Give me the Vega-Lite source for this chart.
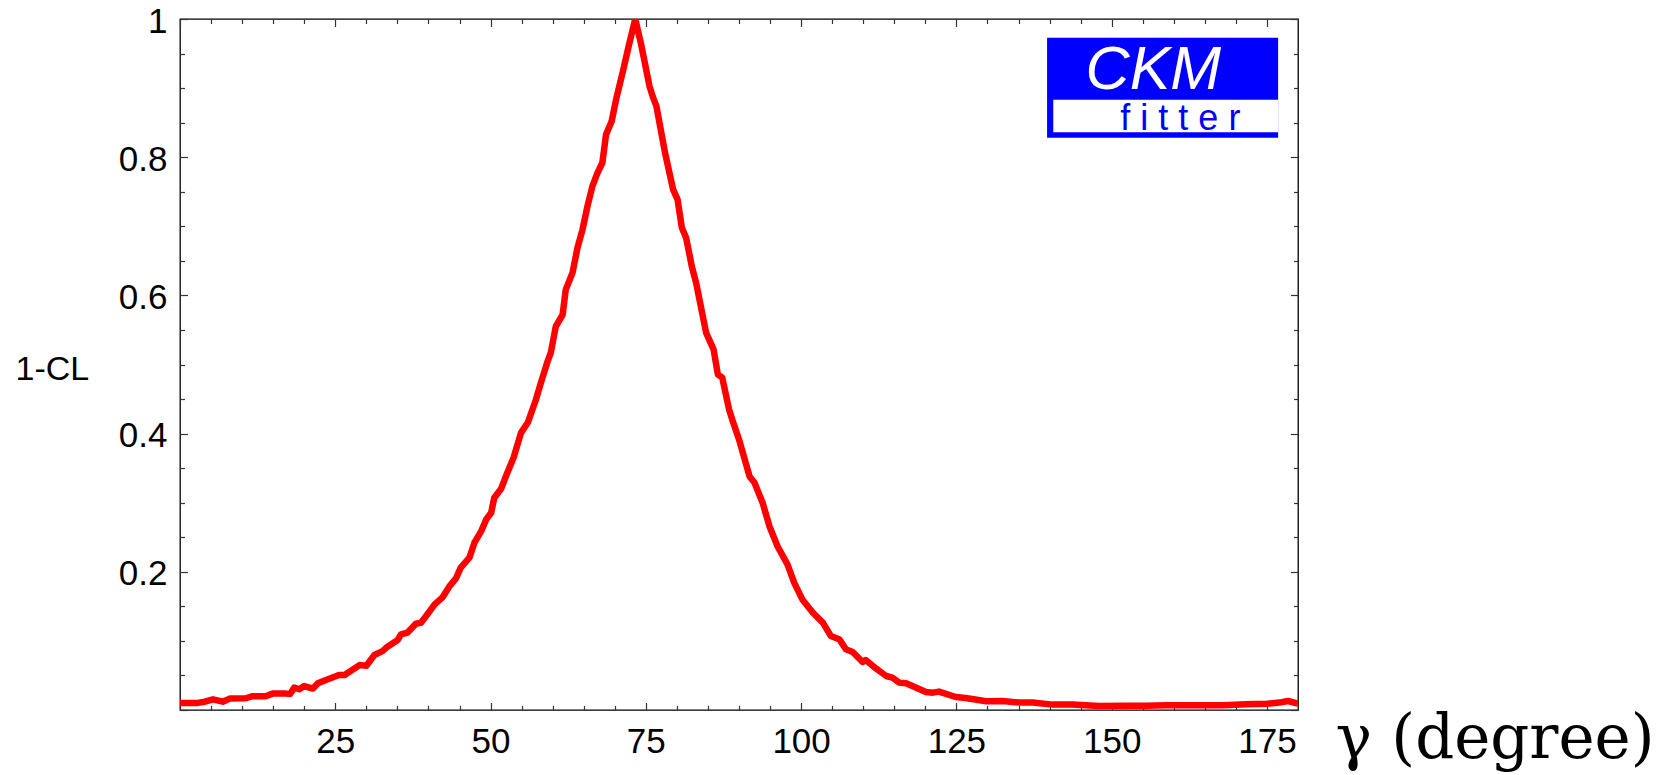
{
  "$schema": "https://vega.github.io/schema/vega-lite/v6.json",
  "autosize": "none",
  "width": 1118,
  "height": 691,
  "padding": {"left": 180, "top": 19, "right": 378, "bottom": 65},
  "background": "white",
  "config": {
    "view": {"stroke": "#000000", "strokeWidth": 1.3},
    "axis": {
      "grid": false,
      "domain": false,
      "labelFont": "Liberation Sans",
      "labelFontSize": 35,
      "labelColor": "#000000",
      "tickColor": "#333333",
      "tickWidth": 1.2,
      "titleColor": "#000000"
    }
  },
  "datasets": {
    "logo": [{"part": "CKMfitter"}]
  },
  "data": {
    "values": [
      {"gamma": 0, "CL": 0.010},
      {"gamma": 1.5, "CL": 0.010},
      {"gamma": 2.6, "CL": 0.010},
      {"gamma": 4.0, "CL": 0.012},
      {"gamma": 5.3, "CL": 0.0155},
      {"gamma": 6.9, "CL": 0.012},
      {"gamma": 8.0, "CL": 0.0165},
      {"gamma": 10.6, "CL": 0.017},
      {"gamma": 11.7, "CL": 0.020},
      {"gamma": 13.8, "CL": 0.020},
      {"gamma": 14.9, "CL": 0.0237},
      {"gamma": 17.1, "CL": 0.0237},
      {"gamma": 17.7, "CL": 0.023},
      {"gamma": 18.4, "CL": 0.0324},
      {"gamma": 19.2, "CL": 0.030},
      {"gamma": 20.0, "CL": 0.0347},
      {"gamma": 21.4, "CL": 0.031},
      {"gamma": 22.2, "CL": 0.0386},
      {"gamma": 23.5, "CL": 0.0434},
      {"gamma": 25.6, "CL": 0.0506},
      {"gamma": 26.5, "CL": 0.0506},
      {"gamma": 28.9, "CL": 0.065},
      {"gamma": 30.0, "CL": 0.0641},
      {"gamma": 31.3, "CL": 0.0796},
      {"gamma": 32.6, "CL": 0.0853},
      {"gamma": 33.4, "CL": 0.0917},
      {"gamma": 35.0, "CL": 0.1008},
      {"gamma": 35.6, "CL": 0.1095},
      {"gamma": 36.6, "CL": 0.1119},
      {"gamma": 38.0, "CL": 0.125},
      {"gamma": 38.8, "CL": 0.1263},
      {"gamma": 39.9, "CL": 0.1394},
      {"gamma": 41.0, "CL": 0.1529},
      {"gamma": 42.3, "CL": 0.1634},
      {"gamma": 43.4, "CL": 0.1793},
      {"gamma": 44.4, "CL": 0.19},
      {"gamma": 45.2, "CL": 0.206},
      {"gamma": 46.6, "CL": 0.2204},
      {"gamma": 47.4, "CL": 0.2421},
      {"gamma": 48.5, "CL": 0.2589},
      {"gamma": 49.3, "CL": 0.2758},
      {"gamma": 50.1, "CL": 0.2855},
      {"gamma": 50.6, "CL": 0.3072},
      {"gamma": 51.7, "CL": 0.3202},
      {"gamma": 52.7, "CL": 0.3434},
      {"gamma": 53.7, "CL": 0.365},
      {"gamma": 54.9, "CL": 0.401},
      {"gamma": 56.0, "CL": 0.416},
      {"gamma": 57.3, "CL": 0.449},
      {"gamma": 58.1, "CL": 0.4735},
      {"gamma": 59.2, "CL": 0.505},
      {"gamma": 59.7, "CL": 0.517},
      {"gamma": 60.5, "CL": 0.555},
      {"gamma": 61.6, "CL": 0.572},
      {"gamma": 62.1, "CL": 0.608},
      {"gamma": 63.2, "CL": 0.633},
      {"gamma": 64.0, "CL": 0.669},
      {"gamma": 64.8, "CL": 0.695},
      {"gamma": 65.6, "CL": 0.729},
      {"gamma": 66.4, "CL": 0.758},
      {"gamma": 67.2, "CL": 0.777},
      {"gamma": 68.0, "CL": 0.792},
      {"gamma": 68.6, "CL": 0.833},
      {"gamma": 69.5, "CL": 0.852},
      {"gamma": 70.2, "CL": 0.883},
      {"gamma": 71.3, "CL": 0.924},
      {"gamma": 72.3, "CL": 0.963},
      {"gamma": 73.3, "CL": 1.0},
      {"gamma": 74.2, "CL": 0.965},
      {"gamma": 75.6, "CL": 0.9025},
      {"gamma": 76.1, "CL": 0.888},
      {"gamma": 76.7, "CL": 0.874},
      {"gamma": 78.1, "CL": 0.806},
      {"gamma": 79.4, "CL": 0.753},
      {"gamma": 80.1, "CL": 0.739},
      {"gamma": 80.8, "CL": 0.698},
      {"gamma": 81.5, "CL": 0.683},
      {"gamma": 82.4, "CL": 0.642},
      {"gamma": 83.1, "CL": 0.618},
      {"gamma": 84.7, "CL": 0.546},
      {"gamma": 85.2, "CL": 0.536},
      {"gamma": 85.9, "CL": 0.522},
      {"gamma": 86.6, "CL": 0.4856},
      {"gamma": 87.3, "CL": 0.481},
      {"gamma": 88.4, "CL": 0.435},
      {"gamma": 89.0, "CL": 0.418},
      {"gamma": 90.0, "CL": 0.3915},
      {"gamma": 91.7, "CL": 0.338},
      {"gamma": 92.5, "CL": 0.329},
      {"gamma": 93.8, "CL": 0.300},
      {"gamma": 94.9, "CL": 0.266},
      {"gamma": 96.2, "CL": 0.237},
      {"gamma": 97.8, "CL": 0.2107},
      {"gamma": 98.9, "CL": 0.184},
      {"gamma": 100.2, "CL": 0.160},
      {"gamma": 101.9, "CL": 0.1408},
      {"gamma": 103.5, "CL": 0.1264},
      {"gamma": 104.8, "CL": 0.107},
      {"gamma": 106.2, "CL": 0.102},
      {"gamma": 107.2, "CL": 0.0878},
      {"gamma": 108.3, "CL": 0.0839},
      {"gamma": 109.9, "CL": 0.0694},
      {"gamma": 110.4, "CL": 0.0723},
      {"gamma": 112.1, "CL": 0.0598},
      {"gamma": 113.7, "CL": 0.0492},
      {"gamma": 114.7, "CL": 0.0468},
      {"gamma": 115.8, "CL": 0.0396},
      {"gamma": 116.9, "CL": 0.0386},
      {"gamma": 120.1, "CL": 0.026},
      {"gamma": 121.2, "CL": 0.0251},
      {"gamma": 122.2, "CL": 0.0266},
      {"gamma": 124.9, "CL": 0.0188},
      {"gamma": 126.5, "CL": 0.0174},
      {"gamma": 129.8, "CL": 0.0126},
      {"gamma": 132.4, "CL": 0.013},
      {"gamma": 135.1, "CL": 0.0107},
      {"gamma": 137.3, "CL": 0.0107},
      {"gamma": 140.5, "CL": 0.0078},
      {"gamma": 143.7, "CL": 0.008},
      {"gamma": 148.0, "CL": 0.0058},
      {"gamma": 152.3, "CL": 0.006},
      {"gamma": 155.5, "CL": 0.006},
      {"gamma": 158.7, "CL": 0.007},
      {"gamma": 164.1, "CL": 0.0068},
      {"gamma": 168.0, "CL": 0.007},
      {"gamma": 171.6, "CL": 0.0082},
      {"gamma": 175.0, "CL": 0.009},
      {"gamma": 177.0, "CL": 0.0107},
      {"gamma": 178.4, "CL": 0.013},
      {"gamma": 180.0, "CL": 0.0092}
    ]
  },
  "layer": [
    {
      "mark": {"type": "line", "opacity": 0},
      "encoding": {
        "x": {"field": "gamma", "type": "quantitative", "scale": {"domain": [0, 180], "nice": false, "zero": false},
              "axis": {"orient": "bottom", "values": [0, 25, 50, 75, 100, 125, 150, 175], "labels": false, "tickSize": -7.5, "title": null}},
        "y": {"field": "CL", "type": "quantitative", "scale": {"domain": [0, 1], "nice": false, "zero": false},
              "axis": {"orient": "left", "values": [0, 0.2, 0.4, 0.6, 0.8, 1], "labels": false, "tickSize": -7.5, "title": null}}
      }
    },
    {
      "mark": {"type": "line", "opacity": 0},
      "encoding": {
        "x": {"field": "gamma", "type": "quantitative",
              "axis": {"orient": "bottom", "values": [5, 10, 15, 20, 30, 35, 40, 45, 55, 60, 65, 70, 80, 85, 90, 95, 105, 110, 115, 120, 130, 135, 140, 145, 155, 160, 165, 170], "labels": false, "tickSize": -4.5, "title": null}},
        "y": {"field": "CL", "type": "quantitative",
              "axis": {"orient": "left", "values": [0.05, 0.1, 0.15, 0.25, 0.3, 0.35, 0.45, 0.5, 0.55, 0.65, 0.7, 0.75, 0.85, 0.9, 0.95], "labels": false, "tickSize": -4.5, "title": null}}
      }
    },
    {
      "mark": {"type": "line", "opacity": 0},
      "encoding": {
        "x": {"field": "gamma", "type": "quantitative",
              "axis": {"orient": "top", "values": [0, 25, 50, 75, 100, 125, 150, 175], "labels": false, "tickSize": -7.5, "title": null}},
        "y": {"field": "CL", "type": "quantitative",
              "axis": {"orient": "right", "values": [0, 0.2, 0.4, 0.6, 0.8, 1], "labels": false, "tickSize": -7.5, "title": null}}
      }
    },
    {
      "mark": {"type": "line", "opacity": 0},
      "encoding": {
        "x": {"field": "gamma", "type": "quantitative",
              "axis": {"orient": "top", "values": [5, 10, 15, 20, 30, 35, 40, 45, 55, 60, 65, 70, 80, 85, 90, 95, 105, 110, 115, 120, 130, 135, 140, 145, 155, 160, 165, 170], "labels": false, "tickSize": -4.5, "title": null}},
        "y": {"field": "CL", "type": "quantitative",
              "axis": {"orient": "right", "values": [0.05, 0.1, 0.15, 0.25, 0.3, 0.35, 0.45, 0.5, 0.55, 0.65, 0.7, 0.75, 0.85, 0.9, 0.95], "labels": false, "tickSize": -4.5, "title": null}}
      }
    },
    {
      "mark": {"type": "line", "color": "#ff0000", "strokeWidth": 6.5, "clip": true, "strokeJoin": "round"},
      "encoding": {
        "x": {"field": "gamma", "type": "quantitative",
              "axis": {"orient": "bottom", "values": [25, 50, 75, 100, 125, 150, 175], "format": "d", "ticks": false, "labelPadding": 14,
                       "title": "γ (degree)", "titleFont": "DejaVu Serif", "titleFontSize": 61, "titleFontWeight": "normal",
                       "titleX": 1155, "titleY": 47, "titleAlign": "left", "titleBaseline": "alphabetic", "titleAnchor": "start"}},
        "y": {"field": "CL", "type": "quantitative",
              "axis": {"orient": "left", "values": [0.2, 0.4, 0.6, 0.8, 1], "format": "~g", "ticks": false, "labelPadding": 13, "labelOffset": 2,
                       "title": "1-CL", "titleFont": "Liberation Sans", "titleFontSize": 34, "titleFontWeight": "normal", "titleAngle": 0,
                       "titleX": -165, "titleY": 350, "titleAlign": "left", "titleBaseline": "middle"}}
      }
    },
    {
      "data": {"name": "logo"},
      "mark": {"type": "rect", "color": "#0000ff", "opacity": 1},
      "encoding": {
        "x": {"datum": 139.6, "type": "quantitative", "axis": null},
        "x2": {"datum": 176.8},
        "y": {"datum": 0.973, "type": "quantitative", "axis": null},
        "y2": {"datum": 0.828}
      }
    },
    {
      "data": {"name": "logo"},
      "mark": {"type": "rect", "color": "#ffffff", "opacity": 1},
      "encoding": {
        "x": {"datum": 140.6, "type": "quantitative", "axis": null},
        "x2": {"datum": 176.8},
        "y": {"datum": 0.8832, "type": "quantitative", "axis": null},
        "y2": {"datum": 0.836}
      }
    },
    {
      "data": {"name": "logo"},
      "mark": {"type": "text", "text": "CKM", "font": "Liberation Sans", "fontSize": 61, "fontStyle": "italic", "color": "#ffffff", "align": "left", "baseline": "alphabetic"},
      "encoding": {
        "x": {"datum": 145.8, "type": "quantitative", "axis": null},
        "y": {"datum": 0.899, "type": "quantitative", "axis": null}
      }
    },
    {
      "data": {"name": "logo"},
      "mark": {"type": "text", "text": "f i t t e r", "font": "Liberation Sans", "fontSize": 36, "color": "#0000ff", "align": "left", "baseline": "alphabetic"},
      "encoding": {
        "x": {"datum": 151.4, "type": "quantitative", "axis": null},
        "y": {"datum": 0.8399, "type": "quantitative", "axis": null}
      }
    }
  ],
  "resolve": {"axis": {"x": "independent", "y": "independent"}}
}
